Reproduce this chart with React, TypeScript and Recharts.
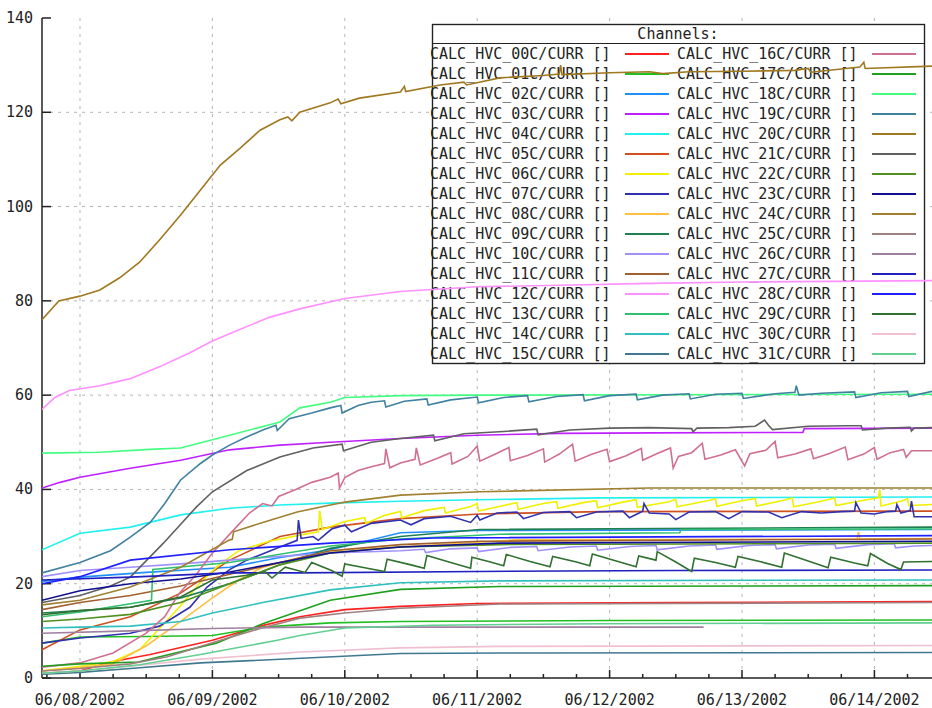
import React from 'react';
import { LineChart, Line, XAxis, YAxis } from 'recharts';

type Pt = [number, number];

// time in days from 06/08/2002 00:00, value in channel current units
const CH00: Pt[] = [[-0.287, 1], [0, 1.5], [0.23, 3.4], [0.53, 5], [1.0, 8], [1.36, 11], [1.66, 13], [2.0, 14.5], [2.42, 15.2], [3.0, 15.8], [4.5, 16], [6.435, 16.2]];
const CH01: Pt[] = [[-0.287, 7.4], [0, 8.7], [0.5, 8.8], [1.0, 9], [1.38, 10.8], [1.89, 11.7], [2.42, 12], [4.0, 12.2], [6.435, 12.3]];
const CH02: Pt[] = [[-0.287, 20.5], [0, 21.4], [0.5, 22.4], [1.13, 23.5], [1.5, 25.5], [1.89, 27.2], [2.42, 30.8], [3.0, 31.3], [6.435, 31.5]];
const CH03: Pt[] = [[-0.287, 40.3], [-0.15, 41.5], [0, 42.6], [0.38, 44.5], [0.76, 46.2], [1.13, 48.4], [1.51, 49.4], [1.89, 50], [2.42, 50.8], [3.0, 51.5], [3.63, 51.9], [4.33, 52], [5.46, 52.1], [5.47, 52.9], [6.435, 53]];
const CH04: Pt[] = [[-0.287, 27.2], [0, 30.7], [0.38, 32], [0.76, 34.6], [1.13, 36], [1.51, 36.7], [1.89, 37.1], [2.42, 37.5], [3.0, 37.8], [3.93, 38.2], [6.435, 38.4]];
const CH05: Pt[] = [[-0.287, 6], [0, 10.2], [0.38, 13], [0.76, 18], [1.13, 25], [1.51, 30], [1.89, 32], [2.42, 33.8], [3.02, 34.8], [3.93, 35.3], [6.435, 35.4]];
const CH06: Pt[] = [
  [-0.287, 1.5], [0, 2.5], [0.25, 3.5], [0.45, 6], [0.6, 10.5], [0.75, 15], [0.9, 20], [1.05, 24], [1.2, 27], [1.43, 29], [1.66, 30.3],
  [1.8, 31], [1.81, 35.5], [1.83, 31.5], [2.0, 33.2], [2.15, 34], [2.16, 32.8], [2.3, 34.5], [2.42, 35.3], [2.43, 34], [2.6, 35.5],
  [2.75, 36.2], [2.76, 35], [2.95, 36.4], [3.0, 37], [3.01, 35.4], [3.2, 36.6], [3.3, 37.2], [3.31, 35.8], [3.5, 37], [3.6, 37.4],
  [3.61, 36], [3.8, 37.2], [3.9, 37.6], [3.91, 36.1], [4.1, 37.3], [4.2, 37.8], [4.21, 36.2], [4.45, 37.4], [4.5, 37.9], [4.51, 36.3],
  [4.72, 37.5], [4.8, 38], [4.81, 36.4], [5.0, 37.6], [5.1, 38.1], [5.11, 36.5], [5.3, 37.6], [5.38, 38.2], [5.39, 36.3], [5.6, 37.5],
  [5.7, 38.2], [5.71, 36.6], [5.9, 37.6], [6.03, 38.2], [6.04, 40], [6.05, 36.5], [6.2, 37.5], [6.25, 38], [6.26, 36.6], [6.435, 36.8],
];
const CH07: Pt[] = [
  [-0.287, 7.4], [0, 8.5], [0.38, 9.5], [0.6, 11], [0.83, 15], [0.96, 19.3], [1.13, 23], [1.26, 25], [1.51, 27.8], [1.64, 29.2],
  [1.65, 33.5], [1.67, 29.6], [1.76, 30], [1.8, 29.2], [1.9, 31.6], [2.0, 32.4], [2.05, 31], [2.2, 32.8], [2.42, 33.5], [2.5, 32.5],
  [2.6, 33.8], [2.8, 34.3], [2.95, 33], [3.0, 34.5], [3.02, 33.5], [3.15, 35], [3.3, 35.2], [3.35, 33.8], [3.5, 35.1], [3.7, 35.3],
  [3.75, 34], [3.9, 35.2], [4.1, 35.4], [4.15, 34], [4.25, 35.4], [4.26, 37], [4.3, 35], [4.45, 34.8], [4.5, 33.6], [4.6, 35.2],
  [4.8, 35.3], [4.9, 33.8], [5.0, 35.3], [5.2, 35.2], [5.3, 34], [5.45, 35.3], [5.6, 35], [5.75, 35.3], [5.85, 35.4], [5.86, 37.2],
  [5.9, 35], [6.0, 34.8], [6.1, 35.3], [6.16, 35.4], [6.17, 36.8], [6.2, 35], [6.27, 35.5], [6.28, 37.5], [6.3, 34.2], [6.435, 34.2],
];
const CH08: Pt[] = [[-0.287, 1.5], [0, 2.2], [0.25, 3], [0.51, 7], [0.76, 12], [1.0, 17], [1.21, 21], [1.38, 23.5], [1.66, 25.5], [2.0, 27.2], [2.67, 28.2], [3.3, 29.3], [5.87, 29.5], [5.88, 31], [5.89, 29.5], [6.435, 29.6]];
const CH09: Pt[] = [[-0.287, 13.8], [0.38, 15], [0.76, 17], [1.13, 20], [1.51, 24], [1.89, 27.5], [2.42, 30], [3.02, 31.5], [6.435, 32]];
const CH10: Pt[] = [
  [-0.287, 21.5], [0, 22.8], [0.38, 23.5], [0.76, 24.2], [1.13, 25], [1.51, 25.8], [1.89, 26.5], [2.42, 27], [2.6, 27.3], [2.61, 26.6],
  [2.8, 27.4], [3.0, 27.6], [3.01, 26.8], [3.25, 27.7], [3.45, 27.9], [3.46, 27], [3.7, 27.8], [3.9, 28], [3.91, 27.1], [4.15, 27.9],
  [4.35, 28.1], [4.36, 27.2], [4.6, 28], [4.8, 28.2], [4.81, 27.3], [5.05, 28.1], [5.25, 28.3], [5.26, 27.4], [5.5, 28.2], [5.7, 28.4],
  [5.71, 27.5], [5.95, 28.3], [6.15, 28.5], [6.16, 27.6], [6.3, 28], [6.435, 28.1],
];
const CH11: Pt[] = [[-0.287, 14.5], [0, 16], [0.38, 17.5], [0.76, 19.5], [1.13, 22], [1.51, 24.5], [1.89, 27], [2.42, 28.3], [3.02, 29], [6.435, 29.5]];
const CH12: Pt[] = [[-0.287, 57], [-0.19, 59.5], [-0.08, 61], [0.15, 62], [0.38, 63.5], [0.6, 66], [0.83, 69], [1.0, 71.5], [1.21, 74], [1.43, 76.5], [1.66, 78.3], [2.0, 80.5], [2.42, 82], [3.0, 83], [3.63, 83.3], [4.3, 83.7], [5.0, 84], [6.435, 84.3]];
const CH13: Pt[] = [[-0.287, 13], [0, 14], [0.54, 16.5], [0.55, 23], [1.13, 24.5], [1.89, 28], [2.42, 29.5], [3.17, 30.5], [4.53, 30.8], [4.54, 31.5], [6.435, 31.6]];
const CH14: Pt[] = [[-0.287, 10.6], [0, 10.8], [0.38, 11], [0.76, 12], [1.0, 13.8], [1.38, 16], [1.89, 18.7], [2.42, 20.2], [3.17, 20.6], [6.435, 20.8]];
const CH15: Pt[] = [[-0.287, 0.8], [0, 1.2], [0.38, 2], [0.91, 3.2], [1.91, 4.5], [2.42, 5.2], [3.17, 5.3], [6.435, 5.4]];
const CH16: Pt[] = [
  [-0.287, 2.3], [0, 3.2], [0.25, 5.3], [0.5, 9.5], [0.64, 13], [0.75, 18], [0.88, 22], [1.0, 26.5], [1.18, 32], [1.28, 35], [1.38, 37],
  [1.45, 36.5], [1.5, 38.5], [1.63, 40], [1.75, 41.5], [1.89, 42.6], [1.95, 43.5], [1.96, 40.3], [2.0, 42.5], [2.1, 44], [2.2, 44.8],
  [2.3, 45.5], [2.31, 48.6], [2.34, 44.6], [2.42, 45.6], [2.53, 46.4], [2.54, 48.8], [2.57, 45.2], [2.7, 46.6], [2.8, 47.8], [2.81, 45.4],
  [2.93, 47], [3.0, 49.2], [3.02, 46], [3.13, 47.4], [3.24, 48.9], [3.25, 46.1], [3.38, 47.2], [3.5, 48.6], [3.51, 45.8], [3.62, 47.5],
  [3.72, 49.6], [3.74, 46], [3.86, 47.4], [3.98, 48.5], [4.0, 45.9], [4.12, 47.1], [4.24, 48.7], [4.25, 46.2], [4.36, 47.6], [4.46, 48.8],
  [4.48, 44.5], [4.52, 47], [4.62, 47.8], [4.7, 49.8], [4.72, 46.4], [4.84, 47.3], [4.95, 48.4], [5.02, 45], [5.06, 47.6], [5.18, 48.3],
  [5.25, 50.2], [5.27, 46.7], [5.4, 47.5], [5.52, 48.6], [5.54, 46.5], [5.66, 47.6], [5.78, 49], [5.8, 46.3], [5.92, 47.5], [6.0, 48.9],
  [6.02, 46.4], [6.12, 47.8], [6.22, 48.5], [6.24, 46.8], [6.28, 48.2], [6.435, 48.2],
];
const CH17: Pt[] = [[-0.287, 2.5], [0, 3], [0.44, 3.4], [1.03, 7.4], [1.38, 11.5], [1.89, 16.5], [2.42, 18.8], [3.17, 19.4], [6.435, 19.6]];
const CH18: Pt[] = [[-0.287, 47.7], [0.15, 47.9], [0.53, 48.5], [0.76, 48.8], [1.13, 51.5], [1.51, 54.3], [1.66, 57.3], [1.89, 58.5], [2.0, 59.5], [2.42, 59.9], [3.0, 60], [6.435, 60.2]];
const CH19: Pt[] = [
  [-0.287, 22.3], [0, 24.5], [0.23, 27], [0.38, 29.9], [0.53, 33], [0.64, 37], [0.76, 42], [0.91, 45.5], [1.0, 47.3], [1.13, 49.4],
  [1.25, 51], [1.38, 52.6], [1.48, 53.6], [1.49, 52.5], [1.58, 55], [1.75, 56.2], [1.89, 57.3], [1.97, 57.8], [1.98, 56.2], [2.1, 57.8],
  [2.2, 58.5], [2.3, 58.8], [2.31, 57.5], [2.45, 58.7], [2.62, 59.2], [2.63, 57.9], [2.8, 59], [3.0, 59.6], [3.01, 58.4], [3.2, 59.5],
  [3.38, 59.9], [3.39, 58.6], [3.6, 59.7], [3.8, 60.1], [3.81, 58.8], [4.0, 59.9], [4.2, 60.2], [4.21, 59], [4.4, 60], [4.6, 60.3],
  [4.61, 59.2], [4.8, 60.2], [5.0, 60.4], [5.01, 59.3], [5.25, 60.3], [5.4, 60.6], [5.41, 62], [5.43, 60], [5.6, 60.4], [5.85, 60.7],
  [5.86, 59.5], [6.05, 60.5], [6.25, 60.8], [6.26, 59.7], [6.435, 60.8],
];
const CH20: Pt[] = [
  [-0.287, 76], [-0.16, 80], [0, 81], [0.15, 82.3], [0.3, 84.9], [0.45, 88.2], [0.6, 92.9], [0.76, 98.2], [0.91, 103.5], [1.06, 108.8],
  [1.21, 112.4], [1.36, 116.2], [1.51, 118.4], [1.57, 119], [1.6, 118.2], [1.66, 120], [1.89, 122], [1.95, 122.8], [1.97, 121.8],
  [2.11, 123], [2.42, 124.3], [2.45, 125.5], [2.46, 124.4], [2.72, 125.8], [2.9, 126.4], [2.92, 125.8], [3.17, 127.3], [3.5, 127.8],
  [3.62, 128.1], [3.63, 130], [3.64, 128], [4.0, 128.4], [4.3, 128.6], [4.4, 128.2], [4.6, 128.6], [5.0, 128.7], [5.4, 128.9],
  [5.5, 129.3], [5.52, 128.5], [5.89, 129.6], [5.92, 130.6], [5.93, 129.3], [6.435, 129.8],
];
const CH21: Pt[] = [
  [-0.287, 16], [0, 17.5], [0.23, 19.5], [0.38, 21.4], [0.63, 28.6], [0.88, 36.3], [1.0, 39.5], [1.26, 44], [1.51, 46.9], [1.76, 48.8],
  [1.98, 49.6], [1.99, 48.2], [2.2, 50], [2.42, 50.8], [2.67, 51.5], [2.68, 50.3], [2.9, 51.8], [3.2, 52.3], [3.45, 52.8], [3.46, 51.6],
  [3.7, 52.6], [4.0, 53], [4.3, 53.1], [4.62, 52.9], [4.63, 52.2], [4.66, 53], [4.9, 53.1], [5.1, 53.4], [5.17, 54.7], [5.2, 53.6],
  [5.23, 52.7], [5.5, 53.4], [5.8, 53.5], [5.9, 53.5], [5.91, 52.6], [6.1, 53], [6.27, 53.2], [6.28, 52.4], [6.3, 53], [6.435, 53.1],
];
const CH22: Pt[] = [[-0.287, 12], [0, 12.5], [0.38, 13.5], [0.76, 16], [1.13, 20], [1.51, 24], [1.89, 26.5], [2.42, 27.8], [3.17, 28.3], [6.435, 28.6]];
const CH23: Pt[] = [[-0.287, 16.5], [0, 18.5], [0.38, 20], [0.76, 21], [1.13, 22.5], [1.51, 24.5], [1.89, 26.5], [2.42, 27.8], [3.17, 28.6], [6.435, 29]];
const CH24: Pt[] = [[-0.287, 15.5], [0, 16.5], [0.38, 19.3], [0.76, 23.5], [1.13, 29.3], [1.15, 29.4], [1.16, 31], [1.38, 33], [1.64, 35.2], [1.89, 36.7], [2.0, 37.3], [2.42, 38.8], [3.02, 39.5], [4.3, 40.3], [6.435, 40.3]];
const CH25: Pt[] = [[-0.287, 1.5], [0, 2], [0.38, 3], [0.66, 4.5], [1.06, 8], [1.36, 10.5], [1.66, 12.7], [2.0, 13.8], [2.42, 14.8], [3.17, 15.7], [6.435, 16]];
const CH26: Pt[] = [[-0.287, 9.5], [0.38, 10], [1.0, 10.5], [1.66, 10.8], [4.71, 10.8]];
const CH27: Pt[] = [[-0.287, 20.8], [0.38, 21.4], [1.13, 22.3], [1.66, 22.3], [3.0, 22.6], [4.5, 22.8], [6.435, 22.9]];
const CH28: Pt[] = [[-0.287, 20], [0, 21.5], [0.38, 25], [1.13, 27.2], [1.89, 28.6], [2.67, 29.7], [6.435, 30.2]];
const CH29: Pt[] = [
  [-0.287, 13.4], [0, 14.3], [0.38, 15], [0.76, 17.2], [1.0, 20.8], [1.26, 21.8], [1.4, 22.5], [1.45, 21.2], [1.55, 23.5], [1.7, 22.4],
  [1.75, 24.5], [1.9, 22.8], [1.98, 21.6], [2.0, 24.2], [2.15, 23.4], [2.3, 22.6], [2.32, 25.2], [2.5, 24], [2.6, 23.3], [2.62, 26],
  [2.8, 24.5], [2.95, 23.3], [2.96, 25.6], [3.1, 24.6], [3.2, 23.8], [3.22, 26.2], [3.4, 24.7], [3.55, 23.6], [3.57, 25.8], [3.75, 24.6],
  [3.85, 23.8], [3.87, 26.3], [4.05, 24.8], [4.2, 23.6], [4.22, 25.9], [4.35, 25], [4.36, 26.8], [4.5, 24.6], [4.62, 22.6], [4.64, 25.4],
  [4.8, 24.5], [4.95, 23.5], [4.97, 25.8], [5.15, 24.6], [5.3, 23.5], [5.32, 26.5], [5.5, 24.8], [5.65, 23.4], [5.67, 25.6], [5.85, 24.4],
  [5.95, 23.8], [5.97, 26.4], [6.1, 24.3], [6.2, 23], [6.22, 24.6], [6.435, 24.7],
];
const CH30: Pt[] = [[-0.287, 1], [0, 1.5], [0.38, 2.5], [0.91, 4], [1.66, 5.5], [2.42, 6.4], [3.17, 6.7], [6.435, 6.9]];
const CH31: Pt[] = [[-0.287, 1], [0, 1.5], [0.45, 2.8], [0.91, 5], [1.49, 8], [1.66, 9], [2.0, 10.6], [2.67, 11.2], [3.93, 11.5], [6.435, 11.7]];

const SERIES: Pt[][] = [
  CH00, CH01, CH02, CH03, CH04, CH05, CH06, CH07, CH08, CH09, CH10, CH11, CH12, CH13, CH14, CH15,
  CH16, CH17, CH18, CH19, CH20, CH21, CH22, CH23, CH24, CH25, CH26, CH27, CH28, CH29, CH30, CH31,
];

const CHANNEL_NAMES: string[] = SERIES.map((_, i) => `CALC_HVC_${String(i).padStart(2, '0')}C/CURR []`);

const CHANNEL_COLORS: string[] = [
  '#ff2020', '#20c020', '#2090ff', '#c020ff', '#20f0f0', '#d05020', '#f0f000', '#3030b0',
  '#ffc040', '#208050', '#a090ff', '#a06030', '#ff90ff', '#30c070', '#30c0c0', '#407890',
  '#d07090', '#20a020', '#40ff80', '#4080a0', '#a07820', '#606060', '#509020', '#101090',
  '#a08030', '#a08080', '#a080a0', '#2020c0', '#2020ff', '#307030', '#f0c0d0', '#60d090',
];

const DAY_LABELS: string[] = ['06/08/2002', '06/09/2002', '06/10/2002', '06/11/2002', '06/12/2002', '06/13/2002', '06/14/2002'];
const Y_TICKS: number[] = [0, 20, 40, 60, 80, 100, 120, 140];
const X_TICKS: number[] = Array.from({ length: 27 }, (_, i) => -0.25 + i * 0.25);
const X_DOMAIN: [number, number] = [-0.287, 6.435];
const LEGEND_TITLE = 'Channels:';

// layout
const W = 932;
const H = 708;
const PLOT = { left: 42, top: 18, right: 932, bottom: 678 };
const FONT = '"DejaVu Sans Mono", monospace';
const INK = '#222';
const GRID = '#b4b4b4';

const BottomTick = (props: any) => {
  const { x, payload } = props;
  const v = payload.value as number;
  const major = Math.abs(v - Math.round(v)) < 1e-6;
  const label = major ? DAY_LABELS[Math.round(v)] : null;
  return (
    <g>
      {major && (
        <line x1={x} x2={x} y1={PLOT.top} y2={PLOT.bottom} stroke={GRID} strokeWidth={1} strokeDasharray="3 5" />
      )}
      <line x1={x} x2={x} y1={PLOT.bottom} y2={PLOT.bottom - (major ? 8 : 4)} stroke={INK} strokeWidth={1.5} />
      {label && (
        <text x={x} y={PLOT.bottom + 22} textAnchor="middle" dominantBaseline="central" fontFamily={FONT} fontSize={15} fill={INK}>
          {label}
        </text>
      )}
    </g>
  );
};

const TopTick = (props: any) => {
  const { x, payload } = props;
  const v = payload.value as number;
  const major = Math.abs(v - Math.round(v)) < 1e-6;
  return <line x1={x} x2={x} y1={PLOT.top} y2={PLOT.top + (major ? 8 : 4)} stroke={INK} strokeWidth={1.5} />;
};

const LeftTick = (props: any) => {
  const { y, payload } = props;
  const v = payload.value as number;
  const inner = v > 0 && v < 140;
  return (
    <g>
      {inner && (
        <line x1={PLOT.left} x2={PLOT.right} y1={y} y2={y} stroke={GRID} strokeWidth={1} strokeDasharray="3 5" />
      )}
      <line x1={PLOT.left} x2={PLOT.left + 9} y1={y} y2={y} stroke={INK} strokeWidth={1.5} />
      <text x={33} y={y} textAnchor="end" dominantBaseline="central" fontFamily={FONT} fontSize={15} fill={INK}>
        {v}
      </text>
    </g>
  );
};

const RightTick = (props: any) => {
  const { y } = props;
  return <line x1={PLOT.right - 9} x2={PLOT.right} y1={y} y2={y} stroke={INK} strokeWidth={1.5} />;
};

const toRows = (pts: Pt[]) => pts.map(([t, v]) => ({ t, v }));

const Legend = () => {
  const box = { x: 432.5, y: 24.5, w: 492, h: 339 };
  return (
    <svg width={W} height={H} style={{ position: 'absolute', left: 0, top: 0 }}>
      <rect x={box.x} y={box.y} width={box.w} height={box.h} fill="#fff" stroke={INK} strokeWidth={1.2} />
      <line x1={box.x} x2={box.x + box.w} y1={43.5} y2={43.5} stroke={INK} strokeWidth={1.2} />
      <text x={678} y={34} textAnchor="middle" dominantBaseline="central" fontFamily={FONT} fontSize={15} fill={INK}>
        {LEGEND_TITLE}
      </text>
      {CHANNEL_NAMES.map((name, i) => {
        const col = i < 16 ? 0 : 1;
        const row = i % 16;
        const y = 54 + row * 20;
        const tx = col === 0 ? 430 : 677;
        const lx = col === 0 ? 625 : 872;
        return (
          <g key={name}>
            <text x={tx} y={y} dominantBaseline="central" fontFamily={FONT} fontSize={15} fill={INK}>
              {name}
            </text>
            <line x1={lx} x2={lx + 44} y1={y} y2={y} stroke={CHANNEL_COLORS[i]} strokeWidth={2} />
          </g>
        );
      })}
      <rect x={box.x} y={box.y} width={box.w} height={box.h} fill="none" stroke={INK} strokeWidth={1.2} />
    </svg>
  );
};

export default function App() {
  return (
    <div style={{ position: 'absolute', left: 0, top: 0, width: W, height: H, background: '#fff', overflow: 'hidden' }}>
      {/* frame, ticks and grid */}
      <div style={{ position: 'absolute', left: 0, top: 0 }}>
        <LineChart width={W} height={H} margin={{ top: PLOT.top, right: 0, bottom: 0, left: 0 }}>
          <XAxis
            xAxisId="b"
            type="number"
            dataKey="t"
            domain={X_DOMAIN}
            allowDataOverflow
            ticks={X_TICKS}
            interval={0}
            height={H - PLOT.bottom}
            axisLine={{ stroke: INK, strokeWidth: 1.5 }}
            tickLine={false}
            tickSize={0}
            tick={<BottomTick />}
          />
          <XAxis
            xAxisId="t"
            orientation="top"
            type="number"
            dataKey="t"
            domain={X_DOMAIN}
            allowDataOverflow
            ticks={X_TICKS}
            interval={0}
            height={0}
            axisLine={{ stroke: INK, strokeWidth: 1.5 }}
            tickLine={false}
            tickSize={0}
            tick={<TopTick />}
          />
          <YAxis
            yAxisId="l"
            type="number"
            domain={[0, 140]}
            ticks={Y_TICKS}
            interval={0}
            width={PLOT.left}
            axisLine={{ stroke: INK, strokeWidth: 1.5 }}
            tickLine={false}
            tickSize={0}
            tick={<LeftTick />}
          />
          <YAxis
            yAxisId="r"
            orientation="right"
            type="number"
            domain={[0, 140]}
            ticks={Y_TICKS}
            interval={0}
            width={0}
            axisLine={{ stroke: INK, strokeWidth: 1.5 }}
            tickLine={false}
            tickSize={0}
            tick={<RightTick />}
          />
          <Line xAxisId="b" yAxisId="l" data={toRows(CH00)} dataKey="v" stroke="none" dot={false} isAnimationActive={false} />
        </LineChart>
      </div>
      <Legend />
      {/* channel traces */}
      <div style={{ position: 'absolute', left: 0, top: 0 }}>
        <LineChart width={W} height={H} margin={{ top: PLOT.top, right: 0, bottom: H - PLOT.bottom, left: PLOT.left }}>
          <XAxis hide type="number" dataKey="t" domain={X_DOMAIN} allowDataOverflow />
          <YAxis hide type="number" domain={[0, 140]} allowDataOverflow />
          {SERIES.map((pts, i) => (
            <Line
              key={CHANNEL_NAMES[i]}
              data={toRows(pts)}
              dataKey="v"
              type="linear"
              stroke={CHANNEL_COLORS[i]}
              strokeWidth={1.6}
              dot={false}
              activeDot={false}
              isAnimationActive={false}
            />
          ))}
        </LineChart>
      </div>
    </div>
  );
}
